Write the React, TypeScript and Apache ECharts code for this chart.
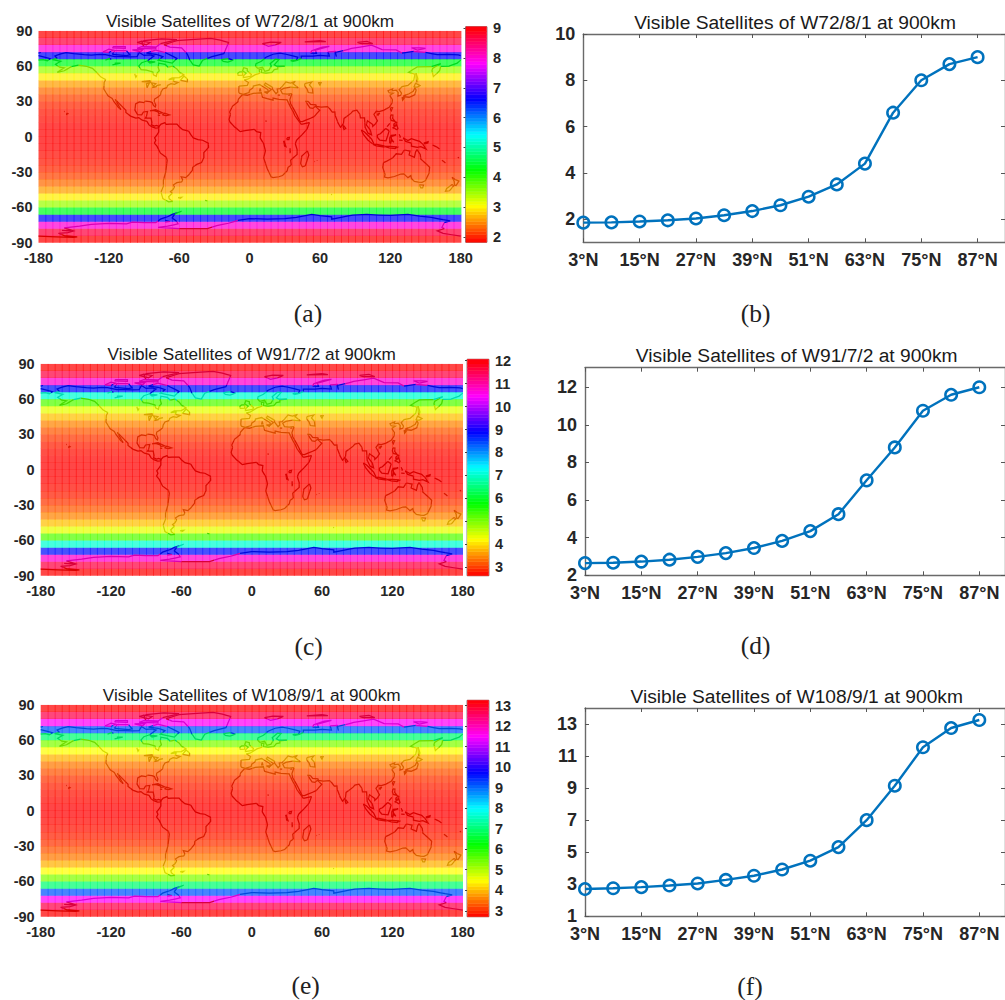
import React, { useEffect, useRef } from "react";
import * as echarts from "echarts";

const FONT = "Liberation Sans";
const LINE_BLUE = "#0072BD";
const INK = "#262626";

// Latitudes of the 15 zonal bands (degrees north)
const latitudes = [3, 9, 15, 21, 27, 33, 39, 45, 51, 57, 63, 69, 75, 81, 87];
const latTicks = [3, 15, 27, 39, 51, 63, 75, 87];

// Visible satellites per band
const w72Values = [1.85, 1.86, 1.9, 1.95, 2.03, 2.17, 2.35, 2.6, 2.97, 3.5, 4.4, 6.6, 8.0, 8.7, 9.0];
const w91Values = [2.65, 2.67, 2.73, 2.83, 2.98, 3.18, 3.45, 3.83, 4.35, 5.25, 7.05, 8.8, 10.75, 11.6, 12.0];
const w108Values = [2.7, 2.75, 2.82, 2.92, 3.05, 3.27, 3.53, 3.92, 4.47, 5.32, 7.0, 9.15, 11.55, 12.75, 13.25];

const w72Ticks = [2, 4, 6, 8, 10];
const w91Ticks = [2, 4, 6, 8, 10, 12];
const w108Ticks = [1, 3, 5, 7, 9, 11, 13];

const w72BarTicks = [2, 3, 4, 5, 6, 7, 8, 9];
const w91BarTicks = [3, 4, 5, 6, 7, 8, 9, 10, 11, 12];
const w108BarTicks = [3, 4, 5, 6, 7, 8, 9, 10, 11, 12, 13];

const lonTicksStep = 60;
const latTicksStep = 30;
const cellLons = Array.from({ length: 60 }, (_, i) => -177 + i * 6);

// Coastlines as [lon, lat] pairs, sketched from the picture
const coastlines: number[][][] = [
  // North America
  [[-168,65.5],[-164,66.5],[-166,68.5],[-161,70.3],[-156.5,71.3],[-150,70.5],[-141,69.7],[-135,69.3],[-128,70],[-123,69.7],[-115,68],[-108,68],[-102,67.8],[-96,68],[-94,71.5],[-90,69],[-85,69.5],[-81.5,68.5],[-85,66],[-87,64.5],[-92,62.8],[-94.5,60],[-92.5,57],[-88,56.5],[-82.5,55],[-82,52.5],[-79.5,51.3],[-79,54],[-77,56],[-78,59],[-77.5,62.4],[-72,61.5],[-69.5,59],[-65.5,60],[-62,57.5],[-60,55],[-56,52.5],[-60,50.2],[-66,50],[-69,48.5],[-64.5,49],[-65,47],[-61,46],[-64,44.5],[-67,45],[-70,43.5],[-70.5,41.7],[-74,40.5],[-75.5,38],[-76,35.5],[-78,33.8],[-81,32],[-81.3,30],[-80,26.8],[-80.5,25.2],[-82,26.5],[-83,29],[-85,29.7],[-89,30.2],[-90,29],[-94,29.6],[-97.2,27.8],[-97.8,22.5],[-95.5,18.8],[-92,18.6],[-90.5,21],[-87,21.5],[-88,17],[-88.8,15.8],[-84,15.8],[-83.3,12],[-83.7,10],[-81,9],[-79.5,9.5],[-77.3,8.7],[-78,7.5],[-80.3,7.3],[-83,8.3],[-85.8,10],[-87.5,13],[-91.5,14],[-94.5,16.2],[-97,15.8],[-101.5,17.5],[-105.5,20.5],[-105.5,22.5],[-109,26],[-112.5,29.5],[-114.7,31.7],[-112,27],[-109.7,23],[-112,25],[-115.5,29.5],[-117.2,32.5],[-120.5,34.5],[-122.5,37.5],[-124.3,40.5],[-124,46],[-122.7,48.5],[-127,50.8],[-130.3,54.5],[-134,58],[-139,59.8],[-146,60.8],[-152,59.5],[-158,56],[-164,54.7],[-158,58.5],[-162,59],[-165.5,61.5],[-161,64],[-168,65.5]],
  // Arctic Canada
  [[-80,73.5],[-72,71.5],[-67,69],[-62,66.5],[-66,62.5],[-72,63.8],[-78,65],[-74,68],[-80,70],[-88,71],[-80,73.5]],
  [[-117,70],[-105,68.8],[-102,69.5],[-105,73],[-115,73],[-117,70]],
  [[-125,72],[-120,71.5],[-116,73.5],[-120,74.4],[-125,72]],
  [[-90,76.5],[-80,76],[-76,79],[-65,81.5],[-62,82.5],[-75,83],[-90,81.5],[-92,79.5],[-90,76.5]],
  [[-96,75],[-80,74.5],[-80,75.8],[-92,76.5],[-96,75]],
  [[-117,75.5],[-106,75],[-106,76.5],[-116,76.5],[-117,75.5]],
  [[-96,80],[-88,78],[-85,80],[-92,81.2],[-96,80]],
  [[-100,73.7],[-93,72],[-91,74],[-100,73.7]],
  [[-87,64],[-80.5,63.6],[-85,62.5],[-87,64]],
  [[-59,47.8],[-53,46.7],[-53,49],[-56,51.5],[-59,47.8]],
  // Greenland, Iceland
  [[-73,78.2],[-68,76],[-58,75.5],[-53,70],[-51,65],[-48,61],[-43,60],[-40,65],[-32,68],[-22,70.5],[-20,75],[-18,80],[-25,82],[-33,83.5],[-50,82.5],[-62,81.5],[-73,78.2]],
  [[-24,65.5],[-18,66.3],[-14,65],[-18.5,63.4],[-22.5,64],[-24,65.5]],
  // Caribbean, Hawaii
  [[-85,22],[-80,23],[-74.2,20.2],[-77.5,19.9],[-78,21],[-82,22.4],[-85,22]],
  [[-74.4,18.5],[-72.5,19.9],[-68.4,18.6],[-71,18],[-74.4,18.5]],
  [[-78.3,18.3],[-76.3,18.1],[-78.3,18.3]],
  [[-156,20],[-155,19.5],[-156,19],[-156,20]],
  [[-158.2,21.5],[-157.7,21.3]],
  // Great lakes and northern lakes
  [[-92,46.8],[-85,47.5],[-84.5,46.2],[-88,46.5],[-92,46.8]],
  [[-87.5,41.7],[-85.5,45.5],[-88,45],[-87.5,41.7]],
  [[-84,45.8],[-80,45],[-82,43],[-84,45.8]],
  [[-83,41.7],[-79,42.8],[-83,42.2]],
  [[-79.5,43.3],[-76.3,44],[-76.3,43.5]],
  [[-117,61],[-110,62.5],[-115,62.5]],
  [[-123,65],[-119,66.5],[-118,65.5]],
  [[-98,53.5],[-97,50.5],[-96,52]],
  // South America
  [[-77.3,8.7],[-75.5,10.7],[-72,12],[-71.5,10.5],[-68,10.7],[-62,10.7],[-60,8.5],[-57,6],[-52,4.8],[-50,1.5],[-48,-1],[-44,-2.5],[-40,-3],[-35.2,-5.5],[-35,-9],[-39,-13.5],[-39,-17.8],[-41,-22],[-45,-23.5],[-48.5,-26],[-48.8,-28.5],[-52,-32.5],[-54.5,-34.8],[-58.3,-34],[-57,-36.8],[-58,-38.3],[-62,-39],[-65,-41],[-64,-42.7],[-65.5,-45],[-67.5,-46.5],[-66,-48],[-69,-51],[-68.5,-52.7],[-65.5,-55],[-69,-55.3],[-74,-52.5],[-75.5,-47],[-73.5,-42],[-73.5,-37],[-71.5,-30],[-70.3,-20],[-71,-17.5],[-76,-14],[-79,-8],[-81.2,-5.5],[-80,-3],[-81,-1],[-79,1.5],[-77.5,4],[-77.5,7],[-77.3,8.7]],
  [[-61,-51.8],[-58,-51.5],[-59,-52.3],[-61,-51.8]],
  [[-38,-54],[-36,-54.5]],
  // Africa and lakes
  [[-6,35.8],[-2,35.2],[3,36.8],[10,37.3],[11,33.5],[15,32.3],[20,31],[20,32.8],[25,31.6],[32,31.2],[32.5,30],[35.5,24],[37.3,21],[38.5,18],[43,12],[44,10.5],[51,12],[49,6.5],[45,2],[40,-3],[39,-6],[40.5,-11],[40.5,-15],[35,-20],[35.5,-24],[32.8,-26],[32,-29],[28,-33],[25,-34],[20,-34.8],[18.3,-34],[15,-27],[12,-18],[13.5,-12],[12,-6],[9,-1],[9.5,3.5],[6,4.3],[4,6.3],[-4,5.2],[-8,4.3],[-13,8.5],[-16.8,12.5],[-17.5,14.7],[-16.3,19],[-17,21],[-14.5,26],[-10,29.5],[-9.5,32],[-6,35.8]],
  [[49.3,-12],[50.5,-15.5],[47.5,-24.8],[45,-25.5],[43.5,-23],[44.5,-16.5],[49.3,-12]],
  [[31.8,-1],[34,-0.5],[33.5,-2.5],[32,-2.5],[31.8,-1]],
  [[29.2,-3.5],[29.8,-8],[31,-8.5],[29.2,-3.5]],
  [[34.5,-9.8],[34.5,-14],[34.8,-12]],
  [[13.5,13.5],[14.5,13]],
  [[57.5,-20],[57.7,-20.4]],
  [[55.3,-21],[55.7,-21.2]],
  [[69.5,-49],[70.3,-49.3]],
  // Eurasia
  [[-9,37],[-9.3,38.8],[-9,43],[-2,43.5],[-1,46],[-4.5,48.3],[-1.5,48.8],[2,51],[4.5,52.5],[8.5,53.8],[8.2,57],[10.5,57.5],[10,54.5],[14,54],[19,54.5],[21,57],[24,57.5],[24,59.3],[30,60],[23,60],[21,61],[25,65.5],[22,65.8],[17.5,62],[18.5,60],[16.5,56.5],[13,55.5],[11,59],[7,58],[5,60],[5.5,62],[10,64],[14,67.5],[20,70],[26,71],[31,70],[41,67.5],[40,65],[35,64.5],[37,64],[40.5,64.7],[44,66.5],[44,68.5],[54,68.5],[60,69],[68,68.5],[67,72],[73,72.5],[74,68],[73,71.5],[80,73],[87,75],[104,77.7],[113,74],[125,73.7],[130,71],[140,72.5],[150,71.5],[160,69.7],[170,70],[178,69.5],[180,68.9]],
  [[-180,68.9],[-175,67.5],[-170,66.2],[-172.5,64.5],[-176,65.5],[-180,65]],
  [[180,65],[177,62.5],[170,60],[163,59.8],[162,56],[156.7,51],[155.5,56],[156,58],[163,62],[155,59.5],[143,59.3],[135.5,54.7],[141,53],[140,48],[135,43.5],[130,42.5],[127.5,39.8],[129.5,37],[129,35.2],[126.5,34.5],[126.7,37.5],[125,39.6],[121.5,39],[122,40.7],[118,39],[119,37.3],[122.5,37],[119.5,35],[121.8,31.5],[121.5,28.5],[119,25],[114,22.3],[110.5,21.3],[108,21.6],[106,19],[109,13.5],[107,10.5],[105,8.7],[105,10.3],[100.5,13.5],[99.5,10],[103,5.5],[104,1.5],[101,3],[98.5,8],[98,16],[94.5,16],[94,19],[91.5,22.5],[88,21.7],[86.5,20],[80.5,15.5],[80,11],[77.5,8],[75.5,11.5],[73,18],[72.7,21],[70.5,20.8],[68.5,23.5],[66.5,25.5],[61,25.2],[57,25.7],[56.5,27],[52,27.5],[50,30],[48,30],[50,26.5],[51.5,24.5],[54,24],[56,25.8],[59.8,22.5],[55,17],[52,15.7],[45,12.8],[43,13],[39,21],[35,28],[34.3,31.3],[36,36.5],[32,36.2],[28,36.5],[26.5,39.5],[29,41],[35,42],[41.5,41.5],[37,45],[39,47],[35,45.5],[33,46],[31,46.5],[28,43],[26,40.8],[23.5,40.5],[24,38],[22.5,36.5],[19.5,40.5],[19.5,42],[13.5,45.5],[12.5,44],[18.5,40],[16,38],[15.5,40],[10.5,43],[8.5,44.3],[3.2,43],[3,41.5],[0,39.5],[-0.5,37.5],[-5.5,36],[-9,37]],
  [[47,45],[53,46.5],[51,44],[53.5,41],[54,37],[50,37.5],[49,40.5],[47,43],[47,45]],
  [[58.5,46],[61,46],[60,43.8],[58.5,46]],
  // European and Arctic islands
  [[-5.5,50.2],[1,51.3],[1.5,52.8],[-2,56],[-2,57.7],[-5,58.6],[-6,56],[-3,54],[-5,52],[-5.5,50.2]],
  [[-10,52],[-6,52.2],[-6,55],[-8.5,55],[-10,54],[-10,52]],
  [[11,79],[16,76.8],[22,78],[27,80],[18,80.3],[11,79]],
  [[52,71],[57,70.7],[56,73.5],[68,76.7],[62,76],[53,73],[52,71]],
  [[47,80.5],[60,81.5],[65,80.7],[47,80.5]],
  [[95,79],[105,79],[100,81],[92,80],[95,79]],
  [[138,75.5],[146,75.5],[150,75],[143,73.5],[138,75.5]],
  [[-180,71],[-178,71.5]],
  [[9,41],[9.5,39],[8.5,39],[9,41]],
  [[12.5,38],[15.5,38],[15,36.7],[12.5,38]],
  [[24,35.4],[26,35.2]],
  [[33,35],[34.5,35.5]],
  // East Asia and Indonesia
  [[142,54],[143.5,49],[142.5,46],[142,50],[142,54]],
  [[131,34],[136,33.5],[140.8,35.5],[142,39.5],[141,41.5],[139.5,38.5],[136,36.5],[131,34.5]],
  [[140,42],[141.5,45.4],[145.3,43.5],[143,42],[140,42]],
  [[130,33.5],[132,33],[130.5,31],[130,33.5]],
  [[121,25],[122,24.5],[120.8,22],[120,23.5],[121,25]],
  [[108.7,19],[111,20],[109.5,18.2],[108.7,19]],
  [[120.5,18.5],[122.2,18.3],[122,15.5],[124,13],[120.8,13.8],[120,16],[120.5,18.5]],
  [[122,7.5],[125.5,9.7],[126.5,7],[125.5,5.7],[124,7],[122,7.5]],
  [[123,11],[125.5,12.5],[125,10],[123,9.5],[123,11]],
  [[117.2,8.5],[119.5,11.3]],
  [[109,1.5],[111.5,2.5],[116,7],[119,5],[117.8,1],[116.3,-3.5],[111,-3],[109,-0.5],[109,1.5]],
  [[95.3,5.6],[98,4],[104,-2],[106,-6],[104.5,-5.8],[101,-3],[97,2],[95.3,5.6]],
  [[105.3,-6.5],[108.5,-6.6],[114.5,-7.7],[114.5,-8.7],[108,-7.8],[105.3,-6.5]],
  [[119.5,-5.5],[119.5,-1],[120.7,1.2],[125,1.5],[120.7,0],[121,-2],[123,-4.8],[121,-3],[120.3,-5.5],[119.5,-5.5]],
  [[131,-1],[135,-3.3],[138,-1.7],[145,-4],[147.8,-6.5],[150.5,-10.5],[146,-8.5],[143,-9],[138,-8],[138,-5.5],[133,-4],[131,-1]],
  [[115,-8.3],[120,-8.3],[125,-8.5],[124,-10],[119,-9.5],[115,-8.3]],
  [[124,-10],[127,-8.5]],
  [[127.5,2],[128.5,0],[128,-0.7]],
  [[127.5,-3],[130.5,-3.2]],
  [[148.5,-5.5],[152.2,-4.2],[152,-5.3],[148.5,-6]],
  [[156,-7],[160,-9],[162,-10.5]],
  [[80,9.7],[82,7],[80.5,6],[79.8,8],[80,9.7]],
  // Australia and Pacific
  [[114.2,-22],[113.5,-26],[115.5,-32],[115,-34.3],[118,-35],[123.5,-33.8],[129,-31.7],[131.5,-31.5],[135,-34.8],[137.5,-33],[138,-35.5],[140.5,-38],[144,-38.5],[147,-38.8],[150,-37.2],[153,-31],[153.5,-26],[150.5,-23],[146,-19],[145.5,-15],[142.7,-11],[141.5,-13],[140.5,-17.5],[136,-15.5],[136.8,-12.2],[132,-11.3],[129.5,-15],[125,-14.5],[122,-18],[117,-20.7],[114.2,-22]],
  [[144.7,-40.8],[148.3,-41],[147.5,-43.5],[146,-43.5],[144.7,-40.8]],
  [[172.7,-34.5],[175.5,-36.5],[178.5,-37.7],[176,-41.5],[174.8,-41.2],[174.5,-38],[172.7,-34.5]],
  [[172.7,-40.5],[174,-41.7],[170.5,-45.9],[167,-46.3],[168,-44],[172.7,-40.5]],
  [[164,-20],[167,-22.3]],
  [[177.5,-17.5],[178.5,-18]],
  // Antarctica
  [[-180,-84.5],[-165,-85],[-150,-85.5],[-147,-85],[-158,-84],[-163,-82],[-155,-81.5],[-150,-80],[-158,-77.5],[-145,-76],[-135,-74.5],[-120,-73.5],[-105,-74],[-100,-72.5],[-90,-73],[-80,-73],[-76,-70],[-70,-68],[-66,-66],[-58,-63.3],[-60,-64],[-64,-66],[-66,-69],[-62,-72],[-61,-74],[-70,-76],[-78,-77],[-60,-78],[-45,-78],[-36,-78],[-28,-75.5],[-18,-73.5],[-10,-71],[0,-69.5],[15,-70],[30,-69.5],[40,-68.5],[53,-66],[60,-67],[70,-68],[70,-70],[78,-68.5],[88,-66.5],[100,-66],[110,-66.5],[120,-66.8],[135,-66],[145,-67.5],[155,-68.5],[165,-70.5],[171,-71.5],[166,-73],[164,-77],[166,-78],[160,-80],[165,-82],[180,-84.5]],
  [[-160,-79.5],[-152,-80],[-155,-79]],
  [[-72,-71],[-68,-72],[-72,-72.5]],
];

const hsv = (t: number, v = 1): [number, number, number] => {
  const h = (Math.max(0, Math.min(1, t)) * 6) % 6;
  const f = h - Math.floor(h);
  const tab: number[][] = [[1, f, 0], [1 - f, 1, 0], [0, 1, f], [0, 1 - f, 1], [f, 0, 1], [1, 0, 1 - f]];
  const c = tab[Math.floor(h)];
  return [c[0] * 255 * v, c[1] * 255 * v, c[2] * 255 * v];
};
const rgba = (c: number[], a: number) => `rgba(${Math.round(c[0])},${Math.round(c[1])},${Math.round(c[2])},${a})`;

const panels = [
  {
    title: "Visible Satellites of W72/8/1 at 900km",
    values: w72Values, lineTicks: w72Ticks, barTicks: w72BarTicks,
    lineMin: 1, lineMax: 10, barMin: 1.82, barMax: 9.05, valMin: 1.85, valMax: 9,
    map: { left: 38.5, top: 30.7, width: 422.2, height: 212 },
    bar: { left: 465.5, top: 26.7, width: 21.5, height: 215.6 },
    line: { left: 583.3, top: 34, width: 423.5, height: 208.3 },
    mapTitle: [250, 21], lineTitle: [795, 22.7],
    caps: [["(a)", 308, 313], ["(b)", 755.7, 313]],
  },
  {
    title: "Visible Satellites of W91/7/2 at 900km",
    values: w91Values, lineTicks: w91Ticks, barTicks: w91BarTicks,
    lineMin: 2, lineMax: 13.04, barMin: 2.63, barMax: 12.06, valMin: 2.65, valMax: 12,
    map: { left: 40.7, top: 363.7, width: 422, height: 212 },
    bar: { left: 467, top: 359.3, width: 22, height: 216.4 },
    line: { left: 585, top: 367.7, width: 421.8, height: 207.6 },
    mapTitle: [251.7, 354], lineTitle: [796.7, 355.7],
    caps: [["(c)", 308.7, 646.7], ["(d)", 755.7, 645.7]],
  },
  {
    title: "Visible Satellites of W108/9/1 at 900km",
    values: w108Values, lineTicks: w108Ticks, barTicks: w108BarTicks,
    lineMin: 1, lineMax: 14, barMin: 2.71, barMax: 13.26, valMin: 2.7, valMax: 13.25,
    map: { left: 40.7, top: 704.7, width: 422, height: 212 },
    bar: { left: 467, top: 700.3, width: 22, height: 216.4 },
    line: { left: 585, top: 708, width: 421.8, height: 208.3 },
    mapTitle: [251.7, 695], lineTitle: [796.7, 696.7],
    caps: [["(e)", 305.7, 985.7], ["(f)", 750, 986.7]],
  },
];

function buildOption() {
  const grid: any[] = [];
  const xAxis: any[] = [];
  const yAxis: any[] = [];
  const series: any[] = [];
  const title: any[] = [];
  const graphic: any[] = [];
  const labelBase = { color: INK, fontFamily: FONT, fontWeight: "bold" as const };
  const off = { show: false };

  panels.forEach((p) => {
    const colorOf = (v: number) => hsv((v - p.valMin) / (p.valMax - p.valMin));
    const bandValue = (lat: number) => p.values[Math.min(14, Math.floor(Math.abs(lat) / 6))];

    // MAP
    let g = grid.length;
    grid.push({ ...p.map, containLabel: false });
    let xi = xAxis.length;
    let yi = yAxis.length;
    xAxis.push({
      type: "value", gridIndex: g, min: -180, max: 180, interval: lonTicksStep,
      axisLine: off, axisTick: off, splitLine: off,
      axisLabel: { ...labelBase, fontSize: 14.5, margin: 8 },
    });
    yAxis.push({
      type: "value", gridIndex: g, min: -90, max: 90, interval: latTicksStep,
      axisLine: off, axisTick: off, splitLine: off,
      axisLabel: { ...labelBase, fontSize: 14.5, margin: 6 },
    });
    const cells: number[][] = [];
    [...latitudes].reverse().map((l) => -l).concat(latitudes).forEach((lat) => {
      cellLons.forEach((lon) => cells.push([lon, lat, bandValue(lat)]));
    });
    series.push({
      type: "custom", name: p.title + " map", xAxisIndex: xi, yAxisIndex: yi, silent: true, clip: true,
      data: cells, encode: { x: 0, y: 1 },
      renderItem: (_: any, api: any) => {
        const lon = api.value(0), lat = api.value(1), val = api.value(2);
        const a = api.coord([lon - 3, lat + 3]);
        const b = api.coord([lon + 3, lat - 3]);
        const c = colorOf(val);
        return {
          type: "rect",
          shape: { x: a[0], y: a[1], width: b[0] - a[0] + 0.7, height: b[1] - a[1] + 0.25 },
          style: { fill: rgba(c, 0.72) },
        };
      },
    });
    series.push({
      type: "custom", name: p.title + " coast", xAxisIndex: xi, yAxisIndex: yi, silent: true, clip: true,
      data: coastlines.map((_, i) => [i]), encode: {},
      renderItem: (_: any, api: any) => {
        const pts = coastlines[api.value(0)];
        const children: any[] = [];
        let run: number[][] = [];
        let runVal = NaN;
        const flush = () => {
          if (run.length > 1) {
            children.push({
              type: "polyline", shape: { points: run },
              style: { fill: "none", stroke: rgba(hsv((runVal - p.valMin) / (p.valMax - p.valMin), 0.85), 1), lineWidth: 1.25 },
            });
          }
        };
        for (let i = 0; i + 1 < pts.length; i++) {
          const [x0, y0] = pts[i];
          const [x1, y1] = pts[i + 1];
          const n = Math.max(1, Math.ceil(Math.abs(y1 - y0) / 1.5));
          for (let k = 0; k <= n; k++) {
            const lon = x0 + ((x1 - x0) * k) / n;
            const lat = y0 + ((y1 - y0) * k) / n;
            const v = bandValue(lat);
            const xy = api.coord([lon, lat]);
            if (v !== runVal) {
              if (run.length) {
                run.push(xy);
                flush();
              }
              run = [xy];
              runVal = v;
            } else {
              run.push(xy);
            }
          }
        }
        flush();
        return { type: "group", children };
      },
    });

    // COLOUR BAR
    g = grid.length;
    grid.push({ ...p.bar, show: true, borderColor: "#8a8a8a", borderWidth: 1, backgroundColor: "transparent" });
    xi = xAxis.length;
    yi = yAxis.length;
    xAxis.push({ type: "value", gridIndex: g, min: 0, max: 1, show: false });
    yAxis.push({
      type: "value", gridIndex: g, position: "right", min: p.barMin, max: p.barMax,
      axisLine: off, splitLine: off,
      axisTick: { show: true, inside: true, length: 2, customValues: p.barTicks, lineStyle: { color: "#444" } },
      axisLabel: { ...labelBase, fontSize: 14.5, margin: 6, customValues: p.barTicks },
    });
    const levels = Array.from({ length: 64 }, (_, i) => i);
    series.push({
      type: "custom", name: p.title + " colour bar", xAxisIndex: xi, yAxisIndex: yi, silent: true,
      data: levels.map((i) => [i]), encode: {},
      renderItem: (_: any, api: any) => {
        const i = api.value(0);
        const span = p.valMax - p.valMin;
        const lo = p.valMin + (span * i) / 64;
        const hi = p.valMin + (span * (i + 1)) / 64;
        const first = i === 0 ? p.barMin : lo;
        const last = i === 63 ? p.barMax : hi;
        const a = api.coord([0.02, last]);
        const b = api.coord([0.98, first]);
        const c = hsv((i + 0.5) / 64);
        return {
          type: "rect",
          shape: { x: a[0], y: a[1], width: b[0] - a[0], height: b[1] - a[1] },
          style: { fill: rgba(c, 1), stroke: rgba(c, 1), lineWidth: 0.5 },
        };
      },
    });

    // LINE PLOT
    g = grid.length;
    grid.push({ ...p.line, containLabel: false });
    xi = xAxis.length;
    yi = yAxis.length;
    const frame = { lineStyle: { color: "#6a6a6a", width: 1.4 } };
    const xMax = 3 + p.line.width / 4.714;
    const tick = (values: number[]) => ({ show: true, inside: true, length: 4, customValues: values, lineStyle: { color: "#555", width: 1 } });
    xAxis.push({
      type: "value", gridIndex: g, min: 3, max: xMax, position: "bottom",
      axisLine: { show: true, ...frame }, splitLine: off,
      axisTick: tick(latTicks),
      axisLabel: { ...labelBase, fontSize: 18, margin: 9, customValues: latTicks, formatter: (v: number) => `${v}°N` },
    });
    xAxis.push({
      type: "value", gridIndex: g, min: 3, max: xMax, position: "top",
      axisLine: { show: true, ...frame }, splitLine: off,
      axisTick: tick(latTicks), axisLabel: off,
    });
    yAxis.push({
      type: "value", gridIndex: g, min: p.lineMin, max: p.lineMax, position: "left",
      axisLine: { show: true, ...frame }, splitLine: off,
      axisTick: tick(p.lineTicks),
      axisLabel: { ...labelBase, fontSize: 18, margin: 8, customValues: p.lineTicks },
    });
    yAxis.push({
      type: "value", gridIndex: g, min: p.lineMin, max: p.lineMax, position: "right",
      axisLine: { show: true, ...frame }, splitLine: off,
      axisTick: tick(p.lineTicks), axisLabel: off,
    });
    series.push({
      type: "line", name: p.title, xAxisIndex: xi, yAxisIndex: yi,
      data: latitudes.map((l, i) => [l, p.values[i]]),
      clip: false, showSymbol: true, symbol: "circle", symbolSize: 11.5,
      lineStyle: { color: LINE_BLUE, width: 2.4 },
      itemStyle: { color: "transparent", borderColor: LINE_BLUE, borderWidth: 2.5 },
      z: 5,
    });

    // TITLES AND CAPTIONS
    [[p.mapTitle, 17.2], [p.lineTitle, 19.2]].forEach(([pos, size]: any) => {
      title.push({
        text: p.title, left: pos[0], top: pos[1] - 11, textAlign: "center", padding: 0,
        textStyle: { color: "#1a1a1a", fontFamily: FONT, fontWeight: "normal", fontSize: size, lineHeight: 22 },
      });
    });
    p.caps.forEach(([text, cx, cy]) => {
      graphic.push({
        type: "text", x: cx as number, y: cy as number,
        style: { text: text as string, fontFamily: "Liberation Serif", fontSize: 25.5, fill: "#222", textAlign: "center", textVerticalAlign: "middle" },
      });
    });
  });

  return { animation: false, backgroundColor: "#fff", title, grid, xAxis, yAxis, series, graphic, tooltip: { show: false } };
}

export default function App() {
  const ref = useRef<HTMLDivElement>(null);
  useEffect(() => {
    if (!ref.current) return;
    const chart = echarts.init(ref.current, undefined, { renderer: "svg" });
    chart.setOption(buildOption() as any);
    return () => chart.dispose();
  }, []);
  return <div ref={ref} style={{ position: "absolute", left: 0, top: 0, width: 1005, height: 1000 }} />;
}
